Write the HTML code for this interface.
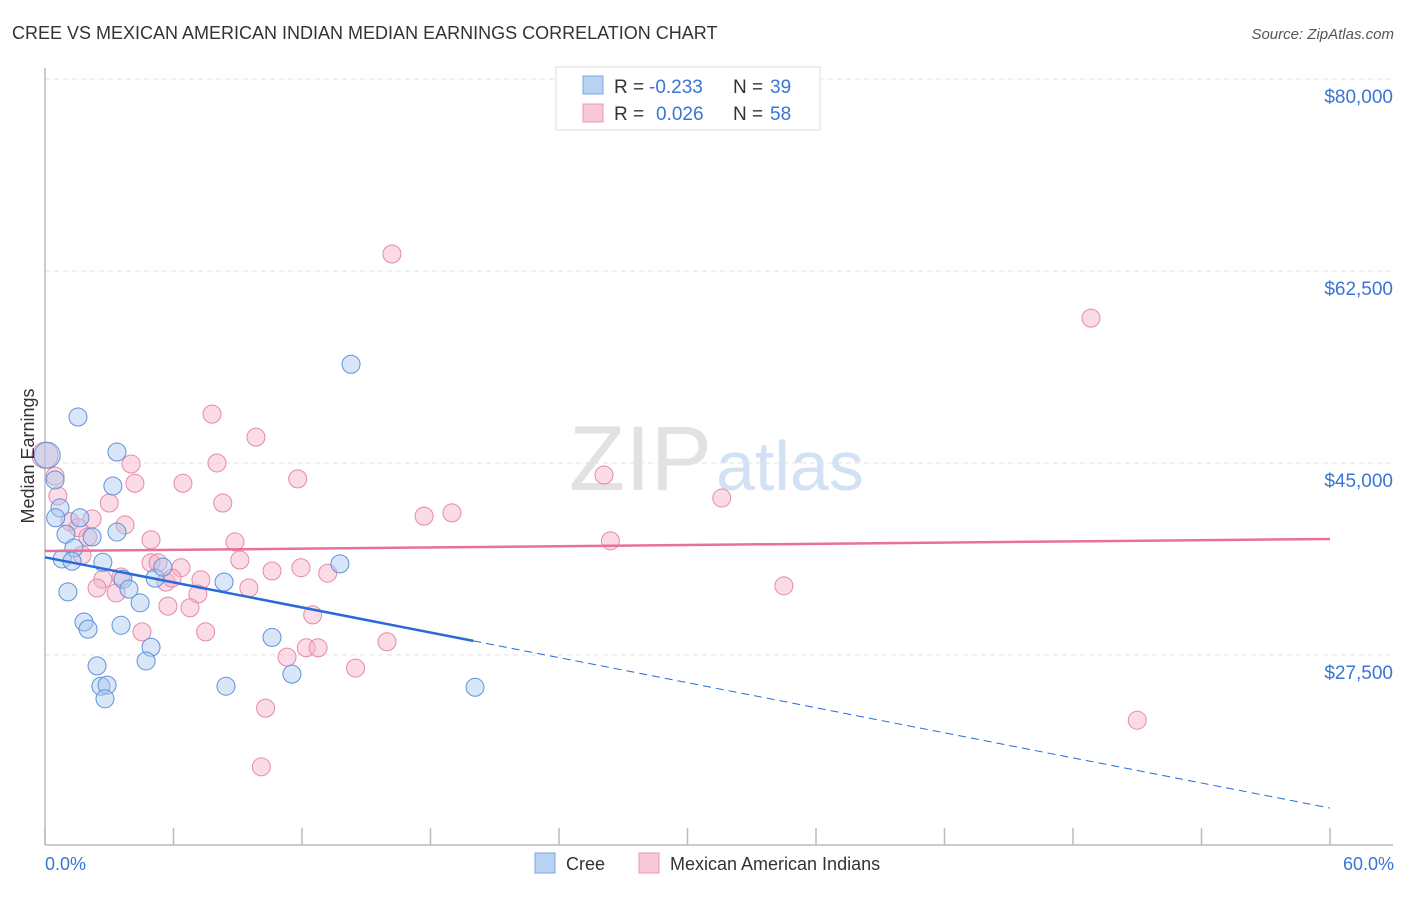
<!DOCTYPE html>
<html><head><meta charset="utf-8"><style>
body{margin:0;background:#fff;font-family:"Liberation Sans",sans-serif;}
svg text{font-family:"Liberation Sans",sans-serif;}
</style></head><body>
<svg width="1406" height="892">
<text x="12" y="39" font-size="18" fill="#333">CREE VS MEXICAN AMERICAN INDIAN MEDIAN EARNINGS CORRELATION CHART</text>
<text x="1394" y="39" font-size="15" fill="#555" font-style="italic" text-anchor="end">Source: ZipAtlas.com</text>
<text x="712" y="490" font-size="92" fill="#e2e2e2" font-family="Liberation Serif" text-anchor="end">ZIP</text>
<text x="716" y="490" font-size="70" fill="#d2e2f4">atlas</text>
<g id="grid"></g>
<g id="axes"></g>
<g id="marks"></g>
<text transform="translate(34,456) rotate(-90)" font-size="18" fill="#333" text-anchor="middle">Median Earnings</text>
<text x="45" y="870" font-size="18" fill="#3a74d4">0.0%</text>
<text x="1394" y="870" font-size="18" fill="#3a74d4" text-anchor="end">60.0%</text>
<g>
<rect x="556" y="67" width="264" height="63" fill="#fff" stroke="#ddd"/>
<rect x="583" y="76" width="20" height="18" fill="#b8d2f4" stroke="#7aa6e0"/>
<rect x="583" y="104" width="20" height="18" fill="#f8c8d8" stroke="#e89ab4"/>
<text x="614" y="93" font-size="19" fill="#333">R =</text>
<text x="649" y="93" font-size="19" fill="#3a74d4">-0.233</text>
<text x="733" y="93" font-size="19" fill="#333">N =</text>
<text x="770" y="93" font-size="19" fill="#3a74d4">39</text>
<text x="614" y="120" font-size="19" fill="#333">R =</text>
<text x="656" y="120" font-size="19" fill="#3a74d4">0.026</text>
<text x="733" y="120" font-size="19" fill="#333">N =</text>
<text x="770" y="120" font-size="19" fill="#3a74d4">58</text>
</g>
<g>
<rect x="535" y="853" width="20" height="20" fill="#b8d2f4" stroke="#7aa6e0"/>
<text x="566" y="870" font-size="18" fill="#333">Cree</text>
<rect x="639" y="853" width="20" height="20" fill="#f8c8d8" stroke="#e89ab4"/>
<text x="670" y="870" font-size="18" fill="#333">Mexican American Indians</text>
</g>
</svg>
<script>
const yTicks=[80000,62500,45000,27500];
const yTickLabels=["$80,000","$62,500","$45,000","$27,500"];
const creeX=[1.54,3.36,0.47,3.17,0.1,0.7,0.5,1.63,0.98,2.2,3.36,1.35,0.8,1.26,2.7,3.64,5.14,5.5,8.36,13.77,3.92,1.07,4.44,1.82,2.01,3.55,10.6,4.95,4.72,2.43,11.53,2.61,2.9,2.8,8.45,20.08,14.29];
const creeY=[49190,46000,43450,42900,45700,40900,40000,40000,38500,38250,38700,37250,36250,36050,35950,34400,34500,35500,34150,35800,33500,33250,32250,30500,29850,30200,29100,28200,26950,26500,25750,24650,24750,23500,24650,24550,54000];
const mexX=[16.2,48.84,7.8,9.85,4.02,8.03,26.1,11.8,4.2,6.44,0.6,31.6,3.0,8.3,19.0,17.7,2.2,3.74,1.17,1.54,2.0,4.95,8.87,26.4,1.73,4.95,5.28,6.35,9.1,10.6,11.95,13.2,2.7,5.65,5.93,7.28,3.55,2.43,3.32,9.52,7.14,34.5,5.74,6.77,12.5,4.53,7.5,15.97,12.2,12.75,11.3,14.5,10.3,51.0,10.1,0,0.47];
const mexY=[64050,58200,49450,47350,44900,45000,43900,43550,43150,43150,42000,41800,41350,41350,40450,40150,39900,39350,39650,39100,38250,38000,37800,37900,36600,35900,35900,35450,36150,35150,35450,34950,34400,34150,34500,34350,34600,33600,33150,33600,33050,33800,31950,31800,31150,29600,29600,28700,28150,28150,27300,26300,22650,21550,17300,45700,43800];
const creeTrend=[36400,-381];   // intercept, slope per %
const mexTrend=[36970,18.3];
const NS="http://www.w3.org/2000/svg";
const xs=p=>45+p*(1285/60);
const ys=v=>79+(80000-v)*10.97/1000;
function mk(tag,attrs,parent){const e=document.createElementNS(NS,tag);for(const k in attrs)e.setAttribute(k,attrs[k]);parent.appendChild(e);return e;}
const grid=document.getElementById('grid'),axes=document.getElementById('axes'),marks=document.getElementById('marks');
yTicks.forEach((v,i)=>{
  const l=mk('line',{x1:45,x2:1393,y1:ys(v),y2:ys(v),stroke:'#e2e2e2','stroke-dasharray':'5,4'},grid);
  
  
  const t=mk('text',{x:1393,y:ys(v)+24,'font-size':19,fill:'#3a74d4','text-anchor':'end'},grid);
  t.textContent=yTickLabels[i];
  
  
});
const ax=mk('line',{x1:45,x2:45,y1:68,y2:845,stroke:'#bbb','stroke-width':1.5},axes);


const bx=mk('line',{x1:45,x2:1393,y1:845,y2:845,stroke:'#bbb','stroke-width':1.5},axes);


for(let i=0;i<=10;i++){
  const t=mk('line',{x1:xs(i*6),x2:xs(i*6),y1:828,y2:845,stroke:'#bbb','stroke-width':1.5},axes);
  
  
}
function dots(X,Y,fill,stroke,name){
  X.forEach((x,i)=>{
    const big=(x<=0.2);
    const c=mk('circle',{cx:xs(x),cy:ys(Y[i]),r:big?13:9,fill:fill,'fill-opacity':0.45,stroke:stroke,'stroke-width':1},marks);
    
    
  });
}
dots(mexX,mexY,'#f5b0c8','#e68aa8','mexican-american-indian-point');
dots(creeX,creeY,'#a8c8f0','#5f92dc','cree-point');
const ct=p=>creeTrend[0]+creeTrend[1]*p, mt=p=>mexTrend[0]+mexTrend[1]*p;
const l1=mk('line',{x1:xs(0),y1:ys(ct(0)),x2:xs(20),y2:ys(ct(20)),stroke:'#2a6ad8','stroke-width':2.5},marks);


const l2=mk('line',{x1:xs(20),y1:ys(ct(20)),x2:xs(60),y2:ys(ct(60)),stroke:'#2a6ad8','stroke-width':1,'stroke-dasharray':'8,5'},marks);


const l3=mk('line',{x1:xs(0),y1:ys(mt(0)),x2:xs(60),y2:ys(mt(60)),stroke:'#e8709a','stroke-width':2.5},marks);


</script>
</body></html>
